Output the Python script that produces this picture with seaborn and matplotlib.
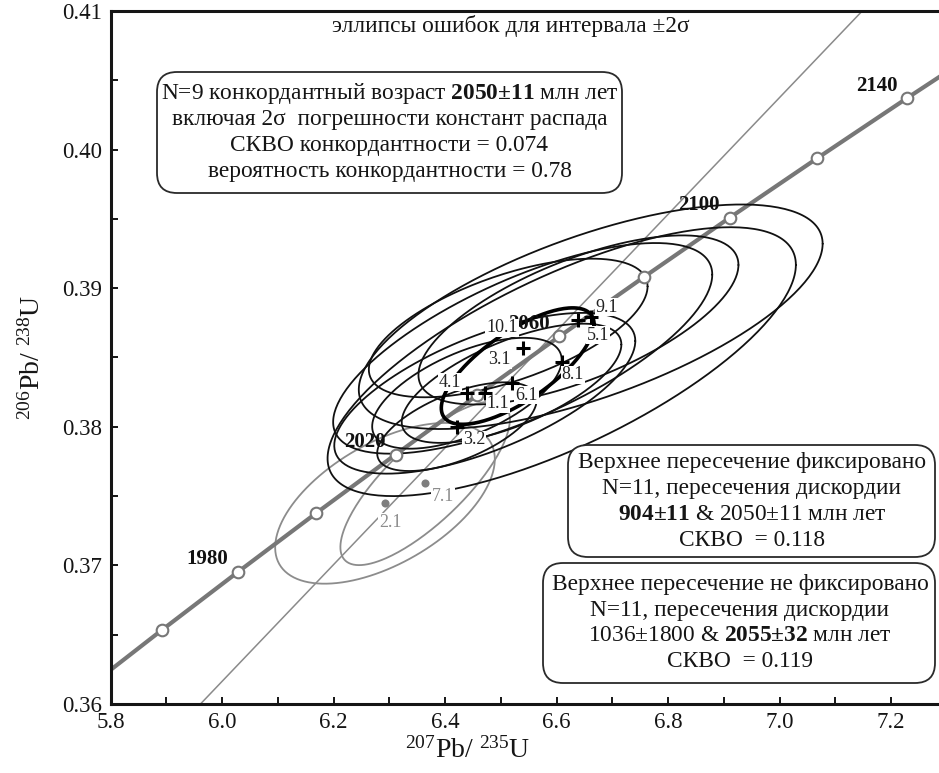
import numpy as np
import pandas as pd
import matplotlib
matplotlib.use("Agg")
import matplotlib.pyplot as plt
from matplotlib.patches import FancyBboxPatch
import seaborn as sns

# Concordia tick ages (Ma) and their isotope-ratio coordinates
conc_age = [1940, 1960, 1980, 2000, 2020, 2040, 2060, 2080, 2100, 2120, 2140, 2160]
conc_x = [5.7573, 5.8916, 6.0287, 6.1685, 6.3111, 6.4566, 6.6049, 6.7562,
          6.9105, 7.0678, 7.2283, 7.3920]
conc_y = [0.36113, 0.36533, 0.36954, 0.37377, 0.37800, 0.38226, 0.38652,
          0.39080, 0.39509, 0.39939, 0.40371, 0.40804]
labelled_ages = [1980, 2020, 2060, 2100, 2140]

# Discordia chord (end points on the frame)
disc_x = [5.961, 7.148]
disc_y = [0.360, 0.410]

# Zircon spots: centre, 2-sigma half widths and error correlation
spot_name = ["1.1", "3.1", "3.2", "4.1", "5.1", "6.1", "8.1", "9.1", "10.1", "2.1", "7.1"]
spot_x = [6.471, 6.539, 6.421, 6.439, 6.639, 6.519, 6.609, 6.661, 6.513, 6.292, 6.364]
spot_y = [0.38242, 0.38566, 0.38001, 0.38242, 0.38771, 0.38314, 0.38470, 0.38794,
          0.38713, 0.37448, 0.37592]
spot_sx = [0.270, 0.340, 0.143, 0.170, 0.287, 0.197, 0.420, 0.416, 0.250, 0.197, 0.152]
spot_sy = [0.0058, 0.0076, 0.0032, 0.0040, 0.0061, 0.0043, 0.0097, 0.0081, 0.0050,
           0.0058, 0.0059]
spot_rho = [0.65, 0.70, 0.60, 0.60, 0.65, 0.65, 0.72, 0.65, 0.60, 0.55, 0.78]
spot_used = [True, True, True, True, True, True, True, True, True, False, False]
label_x = [6.495, 6.498, 6.452, 6.409, 6.674, 6.546, 6.629, 6.690, 6.502, 6.301, 6.396]
label_y = [0.38165, 0.38482, 0.37905, 0.38323, 0.38662, 0.38229, 0.38374, 0.38864,
           0.38713, 0.37313, 0.37494]

# Concordia age ellipse
cage_x, cage_y, cage_sx, cage_sy, cage_rho = 6.530, 0.38438, 0.137, 0.0042, 0.72

x_ticks = [5.8, 6.0, 6.2, 6.4, 6.6, 6.8, 7.0, 7.2]
y_ticks = [0.36, 0.37, 0.38, 0.39, 0.40, 0.41]

title_text = "эллипсы ошибок для интервала ±2σ"
box1_lines = [r"N=9 конкордантный возраст $\mathbf{2050±11}$ млн лет",
              "включая 2σ  погрешности констант распада",
              "СКВО конкордантности = 0.074",
              "вероятность конкордантности = 0.78"]
box2_lines = ["Верхнее пересечение фиксировано",
              "N=11, пересечения дискордии",
              r"$\mathbf{904±11}$ & 2050±11 млн лет",
              "СКВО  = 0.118"]
box3_lines = ["Верхнее пересечение не фиксировано",
              "N=11, пересечения дискордии",
              r"1036±1800 & $\mathbf{2055±32}$ млн лет",
              "СКВО  = 0.119"]

sns.set_theme(style="ticks")
plt.rcParams.update({
    "font.family": ["Liberation Serif", "DejaVu Serif"],
    "mathtext.fontset": "custom",
    "mathtext.rm": "Liberation Serif",
    "mathtext.bf": "Liberation Serif:bold",
    "mathtext.it": "Liberation Serif:italic",
    "axes.edgecolor": "#151515",
    "text.color": "#151515",
    "xtick.color": "#151515",
    "ytick.color": "#151515",
    "axes.labelcolor": "#151515",
})

W, H = 939, 773
L, R, T, B = 110.7, 945.0, 11.0, 704.0
fig = plt.figure(figsize=(W / 100, H / 100), dpi=100)
fig.patch.set_facecolor("white")
ax = fig.add_axes([L / W, 1 - B / H, (R - L) / W, (B - T) / H])
ax.set_facecolor("white")
ax.set_xlim(5.8, 5.8 + (R - L) / 557.5)
ax.set_ylim(0.36, 0.41)


def fx(px):
    return (px - L) / (R - L)


def fy(py):
    return (B - py) / (B - T)


def ellipse(cx, cy, sx, sy, rho, n=240):
    t = np.linspace(0, 2 * np.pi, n)
    ex = cx + sx * np.cos(t)
    ey = cy + sy * (rho * np.cos(t) + np.sqrt(1 - rho ** 2) * np.sin(t))
    return ex, ey


# concordia curve with age markers
conc = pd.DataFrame({"age": conc_age, "x": conc_x, "y": conc_y})
sns.lineplot(data=conc, x="x", y="y", sort=False, estimator=None, color="#777777",
             linewidth=3.0, ax=ax, zorder=2)

# discordia
disc = pd.DataFrame({"x": disc_x, "y": disc_y})
sns.lineplot(data=disc, x="x", y="y", sort=False, estimator=None, color="#8a8a8a",
             linewidth=1.1, ax=ax, zorder=1.5)

# error ellipses
for cx, cy, sx, sy, r, used in zip(spot_x, spot_y, spot_sx, spot_sy, spot_rho, spot_used):
    ex, ey = ellipse(cx, cy, sx, sy, r)
    ax.plot(ex, ey, color="#111111" if used else "#8c8c8c", linewidth=1.3,
            zorder=2.5 if used else 1.8)

ex, ey = ellipse(cage_x, cage_y, cage_sx, cage_sy, cage_rho)
ax.plot(ex, ey, color="#000000", linewidth=2.6, zorder=3)

sns.scatterplot(data=conc, x="x", y="y", marker="o", s=70, color="white",
                edgecolor="#777777", linewidth=1.5, ax=ax, zorder=3.2, legend=False)

for age, x, y in zip(conc_age, conc_x, conc_y):
    if age in labelled_ages:
        ax.annotate(str(age), (x, y), xytext=(-7, 9), textcoords="offset points",
                    ha="right", va="center", fontsize=15, fontweight="bold",
                    color="#111111", zorder=3.5)

spots = pd.DataFrame({"x": spot_x, "y": spot_y, "used": spot_used})
sns.scatterplot(data=spots[spots.used], x="x", y="y", marker="+", s=110,
                color="black", linewidth=2.2, ax=ax, zorder=4, legend=False)
sns.scatterplot(data=spots[~spots.used], x="x", y="y", marker="o", s=34,
                color="#7e7e7e", edgecolor="#7e7e7e", linewidth=0, ax=ax,
                zorder=4, legend=False)

for name, lx, ly, used in zip(spot_name, label_x, label_y, spot_used):
    ax.text(lx, ly, name, ha="center", va="center", fontsize=13,
            color="#222222" if used else "#8c8c8c", zorder=4.5,
            bbox=dict(boxstyle="square,pad=0.05", fc="white", ec="none"))

# axes, ticks
ax.set_xticks(x_ticks)
ax.set_xticks(np.arange(5.8, 7.3, 0.1), minor=True)
ax.set_yticks(y_ticks)
ax.set_yticks(np.arange(0.36, 0.4101, 0.005), minor=True)
ax.xaxis.set_major_formatter("{x:.1f}")
ax.yaxis.set_major_formatter("{x:.2f}")
ax.tick_params(which="both", direction="in", length=5, width=1.4,
               top=False, right=False, labelsize=16.5)
ax.tick_params(axis="x", pad=6)
ax.tick_params(axis="y", pad=6)
for side in ["left", "bottom", "top"]:
    ax.spines[side].set_linewidth(2.2)
    ax.spines[side].set_visible(True)
ax.spines["right"].set_visible(False)

ax.set_xlabel(r"$^{207}$Pb/ $^{235}$U", fontsize=20)
ax.set_ylabel(r"$^{206}$Pb/ $^{238}$U", fontsize=20)
ax.xaxis.set_label_coords(fx(468), fy(737))
ax.yaxis.set_label_coords(fx(46), 0.5)

# annotations
ax.text(fx(511), fy(26), title_text, transform=ax.transAxes, ha="center",
        va="center", fontsize=16.8, zorder=6)

aspect = (R - L) / (B - T)
rad = 20 / (R - L)


def text_box(x0, y0, x1, y1, lines, cx, spacing):
    box = FancyBboxPatch((fx(x0), fy(y1)), fx(x1) - fx(x0), fy(y0) - fy(y1),
                         boxstyle=f"round,pad=0,rounding_size={rad}",
                         mutation_aspect=aspect, transform=ax.transAxes,
                         fc="white", ec="#2a2a2a", lw=1.3, zorder=6, clip_on=False)
    ax.add_patch(box)
    mid = (y0 + y1) / 2
    n = len(lines)
    for i, s in enumerate(lines):
        py = mid + (i - (n - 1) / 2) * spacing
        ax.text(fx(cx), fy(py), s, transform=ax.transAxes, ha="center",
                va="center", fontsize=16.8, zorder=7)


text_box(157, 72, 622, 193, box1_lines, 389.5, 25.7)
text_box(568, 445, 935, 557, box2_lines, 752, 26)
text_box(543, 563, 935, 683, box3_lines, 740, 25.5)

fig.savefig("out.png", dpi=100, facecolor="white")
